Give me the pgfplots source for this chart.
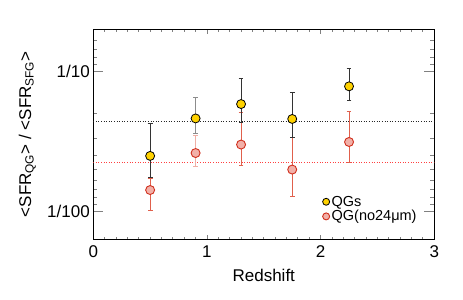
\documentclass[border=0pt]{standalone}
\usepackage{pgfplots}
\pgfplotsset{compat=1.18}
\usepackage{pgfplotstable}
\usepackage{fontspec}
\setmainfont{Liberation Sans}
\definecolor{qgyel}{HTML}{FFD200}
\definecolor{pinkf}{HTML}{F2B0A8}
\definecolor{rededge}{HTML}{D02E1C}
\definecolor{redbar}{HTML}{E0604C}
\definecolor{darkbar}{HTML}{333333}

\pgfplotstableread{
x y yp ym
0.5 0.0248 0.0174 0.0074
1.3 0.0583 0.0312 0.0152
1.75 0.0456 0.0252 0.0119
2.25 0.0781 0.0269 0.0157
}\qgdata
\pgfplotstableread{
x y yp ym
0.9 0.0460 0.0192 0.0103
}\qgdataB
\pgfplotstableread{
x y yp ym
0.5 0.01413 0.0031 0.0040
1.3 0.0299 0.0210 0.0087
1.75 0.0198 0.0139 0.0070
2.25 0.0312 0.0202 0.0089
}\nodata
\pgfplotstableread{
x y yp ym
0.9 0.0260 0.0090 0.0050
}\nodataB

\begin{document}
\begin{tikzpicture}
\begin{axis}[
  scale only axis,
  width=341pt, height=210pt,
  xmin=0, xmax=3,
  ymode=log, ymin=0.00627, ymax=0.2,
  axis line style={line width=1.1pt},
  xtick={0,1,2,3},
  minor x tick num=9,
  ytick={0.01,0.1},
  yticklabels={1/100,1/10},
  minor ytick={0.0111111,0.0125,0.0142857,0.0166667,0.02,0.025,0.0333333,0.05,0.111111,0.125,0.142857,0.166667},
  tick align=inside,
  xtick pos=both, ytick pos=both,
  major tick length=10pt, minor tick length=4pt,
  xtick style={line width=0.9pt,/pgfplots/major tick length=4.5pt,/pgfplots/minor tick length=2.5pt},
  ytick style={line width=0.9pt},
  minor tick style={line width=0.9pt},
  /pgf/number format/assume math mode=true,
  tick label style={font=\fontsize{17}{18}\selectfont},
  xticklabel style={yshift=-3pt},
  xlabel={Redshift},
  ylabel={<SFR\textsubscript{QG}> / <SFR\textsubscript{SFG}>},
  every axis x label/.style={at={(rel axis cs:0.5,0)}, anchor=base, yshift=-41.7pt, font=\fontsize{17}{18}\selectfont},
  every axis y label/.style={at={(rel axis cs:0,0.5)}, xshift=-66pt, rotate=90, anchor=center, font=\fontsize{17}{18}\selectfont},
  legend style={at={(rel axis cs:0.672,0.07)}, anchor=south west, draw=none, fill=none,
    font=\fontsize{14.5}{15}\selectfont, row sep=-1.2pt, inner sep=0pt,
    /tikz/every even column/.append style={column sep=0pt}},
  legend cell align=left,
  legend image code/.code={\draw[#1,only marks] plot coordinates {(0.1cm,0pt)};},
]
% reference lines
\addplot[dotted, black!85, line width=0.6pt, forget plot] coordinates {(0,0.0438) (3,0.0438)};
\addplot[dotted, red!75!white, line width=0.6pt, forget plot] coordinates {(0,0.0223) (3,0.0223)};
% QG no24 error bars + markers
\addplot[forget plot, rededge, only marks, mark=*, mark size=4.5pt, line width=0.9pt, mark options={solid, fill=pinkf},
  error bars/.cd, y dir=both, y explicit, error bar style={color=redbar, line width=0.8pt},
  error mark options={rotate=90, mark size=2.4pt, redbar, line width=0.8pt}]
  table[x=x, y=y, y error plus=yp, y error minus=ym] {\nodata};
\addplot[forget plot, rededge, only marks, mark=*, mark size=4.5pt, line width=0.9pt, mark options={solid, fill=pinkf},
  error bars/.cd, y dir=both, y explicit, error bar style={color=redbar!50!white, line width=0.8pt},
  error mark options={rotate=90, mark size=2.4pt, redbar!50!white, line width=0.8pt}]
  table[x=x, y=y, y error plus=yp, y error minus=ym] {\nodataB};
% QG error bars + markers
\addplot[forget plot, black, only marks, mark=*, mark size=4.5pt, line width=0.8pt, mark options={solid, fill=qgyel},
  error bars/.cd, y dir=both, y explicit, error bar style={color=darkbar, line width=0.8pt},
  error mark options={rotate=90, mark size=2.4pt, darkbar, line width=0.8pt}]
  table[x=x, y=y, y error plus=yp, y error minus=ym] {\qgdata};
\addplot[forget plot, black, only marks, mark=*, mark size=4.5pt, line width=0.8pt, mark options={solid, fill=qgyel},
  error bars/.cd, y dir=both, y explicit, error bar style={color=black!45, line width=0.8pt},
  error mark options={rotate=90, mark size=2.4pt, black!45, line width=0.8pt}]
  table[x=x, y=y, y error plus=yp, y error minus=ym] {\qgdataB};
\addlegendimage{only marks, black, line width=0.8pt, mark=*, mark size=3.5pt, mark options={fill=qgyel}}
\addlegendentry{QGs}
\addlegendimage{only marks, rededge, line width=0.9pt, mark=*, mark size=3.5pt, mark options={fill=pinkf}}
\addlegendentry{QG(no24μm)}
\end{axis}
\path ([shift={(-93.3pt,-60pt)}]current axis.south west) rectangle ([shift={(28.7pt,29.3pt)}]current axis.north east);
\end{tikzpicture}
\end{document}
